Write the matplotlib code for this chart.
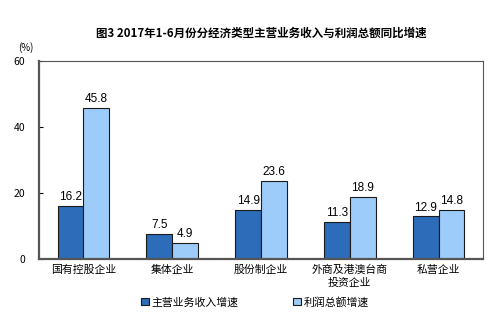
import matplotlib.pyplot as plt
import numpy as np

plt.rcParams["font.family"] = ["Noto Sans CJK SC", "DejaVu Sans"]
plt.rcParams["axes.unicode_minus"] = False

categories = ["国有控股企业", "集体企业", "股份制企业", "外商及港澳台商\n投资企业", "私营企业"]
revenue_growth = [16.2, 7.5, 14.9, 11.3, 12.9]
profit_growth = [45.8, 4.9, 23.6, 18.9, 14.8]
series_names = ["主营业务收入增速", "利润总额增速"]

fig = plt.figure(figsize=(5, 3.33), dpi=100)
ax = fig.add_axes([0.078, 0.222, 0.888, 0.595])

x = np.arange(len(categories))
w = 0.29
b1 = ax.bar(x - w / 2, revenue_growth, w, color="#2D6CB8", edgecolor="#1a1a1a",
            linewidth=0.8, label=series_names[0])
b2 = ax.bar(x + w / 2, profit_growth, w, color="#9DCBFA", edgecolor="#1a1a1a",
            linewidth=0.8, label=series_names[1])

# 柱顶数值
for bars, vals in ((b1, revenue_growth), (b2, profit_growth)):
    for r, v in zip(bars, vals):
        ax.text(r.get_x() + r.get_width() / 2, v + 0.9, f"{v:.1f}",
                ha="center", va="bottom", fontsize=8.5, family="Liberation Sans")

ax.set_xlim(-0.5, 4.5)
ax.set_ylim(0, 60)
ax.set_yticks([0, 20, 40, 60])
ax.set_xticks(x)
ax.set_xticklabels(categories, fontsize=7.8, linespacing=1.3)
ax.tick_params(axis="y", direction="in", length=3, labelsize=7.5, pad=10)
ax.tick_params(axis="x", length=0, pad=4)
for s in ax.spines.values():
    s.set_color("#555555")
    s.set_linewidth(0.8)
ax.spines["left"].set_linewidth(1.6)
ax.spines["bottom"].set_linewidth(1.6)

fig.text(0.522, 0.9, "图3 2017年1-6月份分经济类型主营业务收入与利润总额同比增速",
         ha="center", va="center", fontsize=8.3, fontweight="bold")
fig.text(0.036, 0.858, "(%)", ha="left", va="center", fontsize=7)

fig.legend(handles=[b1, b2], loc="center", bbox_to_anchor=(0.51, 0.093), ncol=2,
           frameon=False, fontsize=7.8, handlelength=0.7, handleheight=0.7,
           handletextpad=0.3, columnspacing=5)

plt.savefig("out.png", dpi=100)
